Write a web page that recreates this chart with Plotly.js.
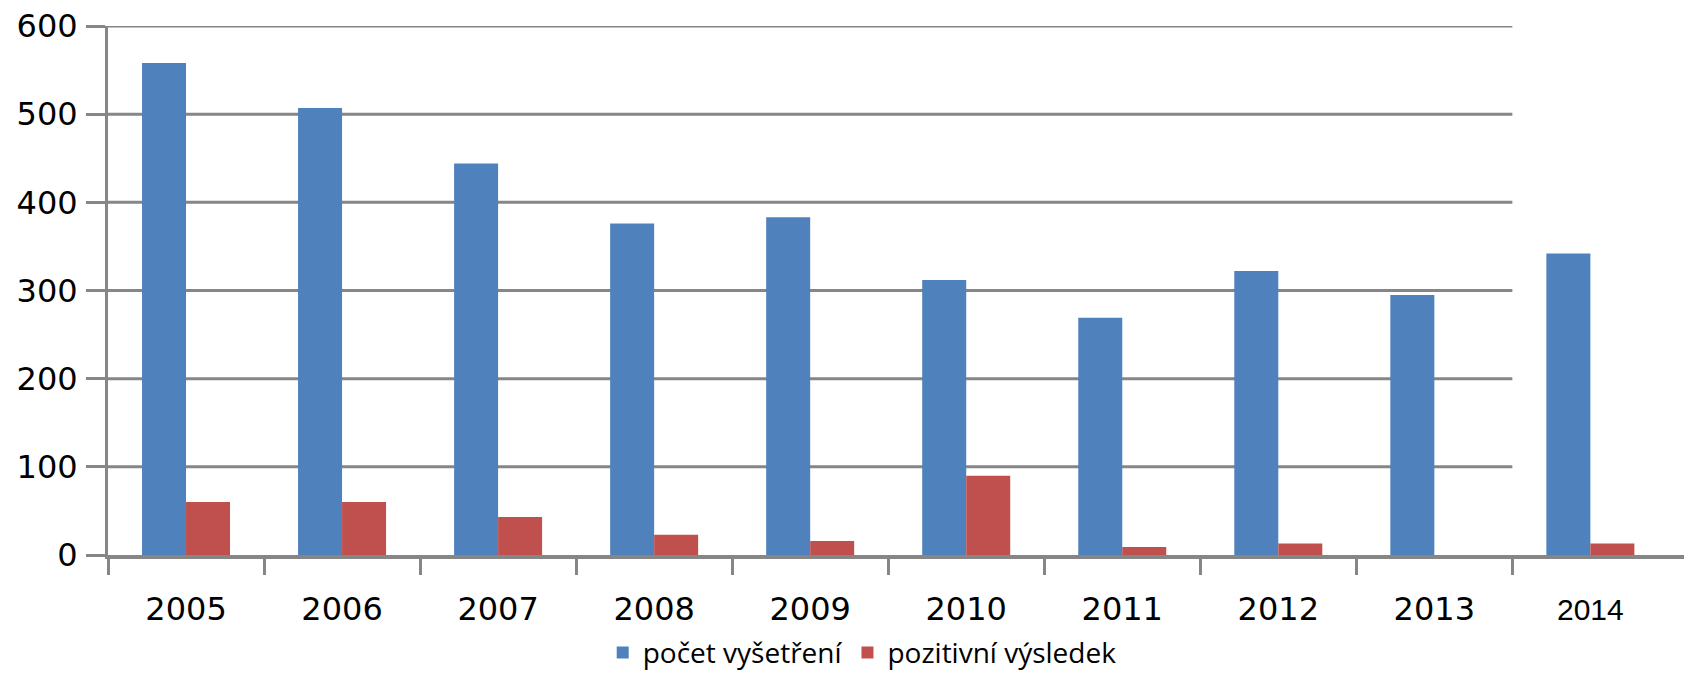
<!DOCTYPE html>
<html>
<head>
<meta charset="utf-8">
<script src="https://cdn.plot.ly/plotly-3.0.1.min.js"></script>
<style>
  html, body { margin: 0; padding: 0; background: #ffffff; }
  #chart { width: 1684px; height: 673px; }
</style>
</head>
<body>
<div id="chart"></div>
<script>
// ---- data ----
const years = ['2005', '2006', '2007', '2008', '2009', '2010', '2011', '2012', '2013', '2014'];
const pocetVysetreni = [558, 507, 444, 376, 383, 312, 269, 322, 295, 342];
const pozitivniVysledek = [60, 60, 43, 23, 16, 90, 9, 13, null, 13];
const seriesNames = ['počet vyšetření', 'pozitivní výsledek'];
const yTicks = [0, 100, 200, 300, 400, 500, 600];
const xTickLabels = ['2005', '2006', '2007', '2008', '2009', '2010', '2011', '2012', '2013'];
const lastLabel = '2014';

// ---- styling ----
const gridColor = '#868686';
const tickFont = { family: 'DejaVu Sans, Verdana, sans-serif', size: 32, color: '#000000' };

const traces = [
  {
    type: 'bar', name: seriesNames[0], x: years, y: pocetVysetreni,
    marker: { color: '#4F81BD' }, hoverinfo: 'none'
  },
  {
    type: 'bar', name: seriesNames[1], x: years, y: pozitivniVysledek,
    marker: { color: '#C0504D' }, hoverinfo: 'none'
  }
];

// gridlines only span the original 2005–2013 area
const gridShapes = yTicks.filter(v => v > 0).map(v => ({
  type: 'line', xref: 'x', yref: 'y', layer: 'below',
  x0: -0.5, x1: xTickLabels.length - 0.5, y0: v, y1: v,
  line: { color: gridColor, width: 3 }
}));

const layout = {
  width: 1684, height: 673,
  paper_bgcolor: '#ffffff', plot_bgcolor: '#ffffff',
  margin: { l: 108, r: 0, t: 26, b: 118 },
  barmode: 'group', bargap: 0.436, bargroupgap: 0,
  showlegend: true,
  legend: {
    orientation: 'h', xref: 'container', yref: 'container',
    x: 0.512, xanchor: 'center', y: 0.03, yanchor: 'middle',
    font: { family: 'Open Sans, sans-serif', size: 28, color: '#000000' },
    bgcolor: 'rgba(0,0,0,0)'
  },
  xaxis: {
    type: 'category', range: [-0.5, 9.6],
    tickmode: 'array', tickvals: xTickLabels, ticktext: xTickLabels,
    tickson: 'boundaries', ticks: 'outside', ticklen: 16, tickwidth: 3, tickcolor: gridColor,
    showline: true, linecolor: gridColor, linewidth: 4,
    showgrid: false, zeroline: false,
    tickfont: tickFont, ticklabelstandoff: 23
  },
  yaxis: {
    range: [0, 600], tickmode: 'array', tickvals: yTicks,
    ticks: 'outside', ticklen: 19, tickwidth: 3, tickcolor: gridColor,
    showline: true, linecolor: gridColor, linewidth: 3,
    showgrid: false, zeroline: false,
    tickfont: tickFont, ticklabelstandoff: 2
  },
  shapes: gridShapes,
  annotations: [{
    xref: 'x', yref: 'paper', x: years.indexOf(lastLabel), y: 0, yanchor: 'top', yshift: -36,
    text: lastLabel, showarrow: false,
    font: { family: 'Liberation Sans, Arial, sans-serif', size: 30, color: '#000000' }
  }]
};

Plotly.newPlot('chart', traces, layout, { displayModeBar: false, staticPlot: true });
</script>
</body>
</html>
